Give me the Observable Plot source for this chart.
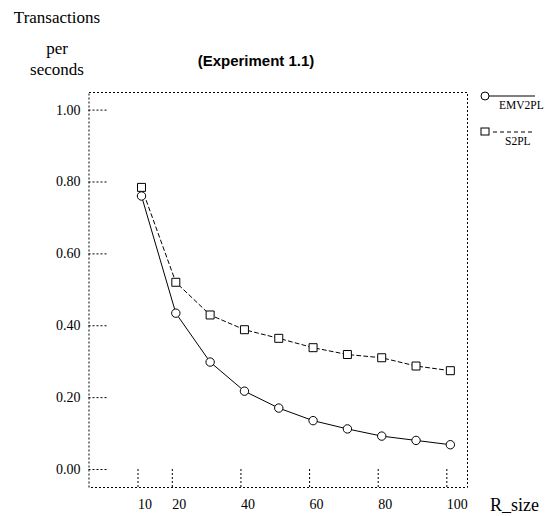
<!DOCTYPE html>
<html><head><meta charset="utf-8">
<script src="https://cdn.jsdelivr.net/npm/d3@7"></script>
<script src="https://cdn.jsdelivr.net/npm/@observablehq/plot@0.6"></script>
<style>
body{margin:0;background:#fff;}
#wrap{position:relative;width:546px;height:516px;overflow:hidden;background:#fff;}
#wrap > svg{position:absolute;left:0;top:0;}
.lab{position:absolute;font-family:"Liberation Serif","Times New Roman",serif;color:#000;white-space:nowrap;line-height:1;}
#title{font-family:"Liberation Sans",Arial,sans-serif;font-weight:bold;font-size:15px;}
</style></head><body>
<div id="wrap"></div>
<script>
// ---- data ----
const rSize = [10, 20, 30, 40, 50, 60, 70, 80, 90, 100];
const emv2pl = [0.761, 0.435, 0.299, 0.218, 0.171, 0.136, 0.113, 0.093, 0.081, 0.069];
const s2pl   = [0.785, 0.521, 0.430, 0.389, 0.365, 0.339, 0.320, 0.311, 0.288, 0.275];
const seriesNames = ["EMV2PL", "S2PL"];
const xTicks = [10, 20, 40, 60, 80, 100];
const yTicks = [0, 0.2, 0.4, 0.6, 0.8, 1.0];
const titleText = "(Experiment 1.1)";
const yLabelLines = ["Transactions", "per", "seconds"];
const xLabelText = "R_size";

const rowsEmv = rSize.map((x, i) => ({x, y: emv2pl[i]}));
const rowsS2 = rSize.map((x, i) => ({x, y: s2pl[i]}));

const plot = Plot.plot({
  width: 546, height: 516,
  marginLeft: 88.5, marginRight: 79, marginTop: 92, marginBottom: 29,
  style: 'font-family: "Liberation Serif", "Times New Roman", serif; font-size: 14px; color: black; background: transparent;',
  x: {domain: [-5.3, 105], label: null},
  y: {domain: [-0.05, 1.049], label: null},
  marks: [
    Plot.frame({stroke: "black", strokeDasharray: "2,2"}),
    Plot.axisY(yTicks, {tickSize: -19, tickPadding: 27.5, strokeDasharray: "2,2", tickFormat: d => d.toFixed(2), label: null, fontSize: 14, fontFamily: "Liberation Serif"}),
    Plot.axisX(xTicks, {tickSize: -20, tickPadding: 32, strokeDasharray: "2,2", textAnchor: "start", dx: -3.5, label: null, fontSize: 14, fontFamily: "Liberation Serif"}),
    Plot.line(rowsS2, {x: "x", y: "y", stroke: "black", strokeWidth: 1, strokeDasharray: "4,3"}),
    Plot.line(rowsEmv, {x: "x", y: "y", stroke: "black", strokeWidth: 1}),
    Plot.dot(rowsS2, {x: "x", y: "y", symbol: "square", r: 4.5, stroke: "black", fill: "white", strokeWidth: 1}),
    Plot.dot(rowsEmv, {x: "x", y: "y", symbol: "circle", r: 4.2, stroke: "black", fill: "white", strokeWidth: 1})
  ]
});
const wrap = document.getElementById("wrap");
wrap.appendChild(plot);

// ---- text labels (HTML) ----
function addLabel(text, size, baseline, cx, opts = {}) {
  const d = document.createElement("div");
  d.className = "lab";
  if (opts.id) d.id = opts.id;
  d.textContent = text;
  d.style.fontSize = size + "px";
  const asc = opts.sans ? 0.905 : 0.891, desc = opts.sans ? 0.212 : 0.216;
  const off = (1 - (asc + desc)) / 2 * size + asc * size;
  d.style.top = (baseline - off) + "px";
  d.style.left = cx + "px";
  if (opts.anchor !== "start") d.style.transform = "translateX(-50%)";
  wrap.appendChild(d);
}
const yLabBase = [23, 54, 75];
yLabelLines.forEach((t, i) => addLabel(t, 17, yLabBase[i], 57));
addLabel(titleText, 15, 66, 256, {id: "title", sans: true});
addLabel(xLabelText, 18, 511, 490, {anchor: "start"});

// ---- legend ----
const lg = d3.select(wrap).append("svg").attr("width", 76).attr("height", 72)
  .style("left", "470px").style("top", "80px");
const lgY = [16, 52];
seriesNames.forEach((name, i) => {
  const g = lg.append("g").attr("transform", `translate(0,${lgY[i]})`);
  g.append("line").attr("x1", i ? 23 : 15).attr("x2", 65).attr("y1", 0).attr("y2", 0)
    .attr("stroke", "black").attr("stroke-width", 1).attr("stroke-dasharray", i ? "4,3" : null);
  if (i === 0) g.append("circle").attr("cx", 15).attr("cy", 0).attr("r", 4).attr("fill", "white").attr("stroke", "black");
  else g.append("rect").attr("x", 11).attr("y", -4).attr("width", 8).attr("height", 7).attr("fill", "white").attr("stroke", "black");
  g.append("text").attr("x", i ? 35 : 29).attr("y", 13).attr("font-family", '"Liberation Serif", serif')
    .attr("font-size", 11.5).text(name);
});
</script>
</body></html>
